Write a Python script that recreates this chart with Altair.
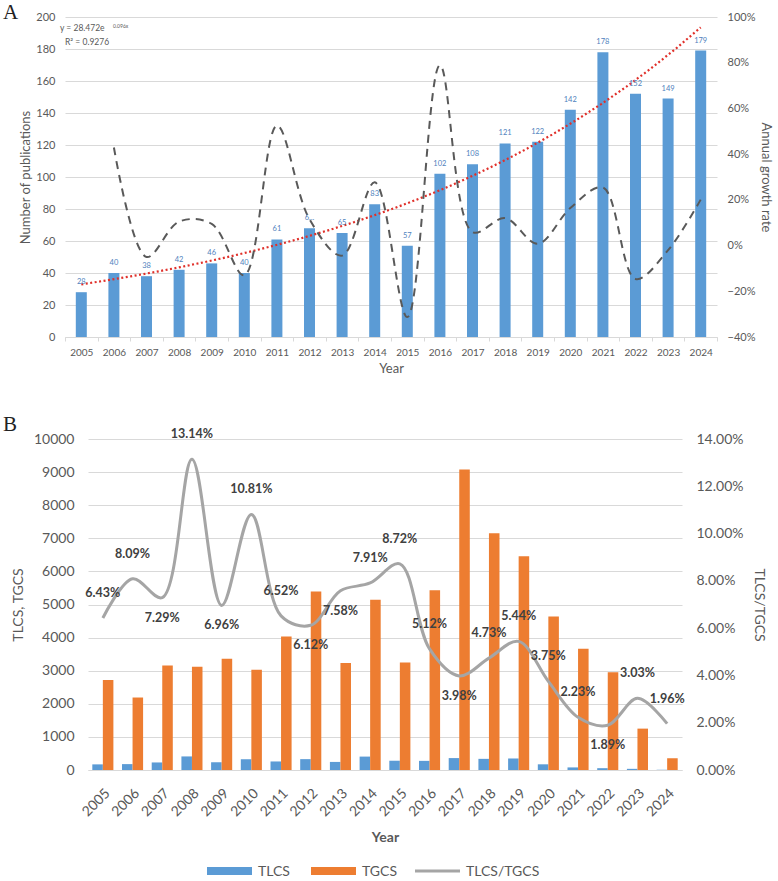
import altair as alt
import pandas as pd

# ---------------- Panel A data ----------------
years = ["2005", "2006", "2007", "2008", "2009", "2010", "2011", "2012", "2013", "2014",
         "2015", "2016", "2017", "2018", "2019", "2020", "2021", "2022", "2023", "2024"]
publications = [28, 40, 38, 42, 46, 40, 61, 68, 65, 83, 57, 102, 108, 121, 122, 142, 178, 152, 149, 179]
pub_labels = ["28", "40", "38", "42", "46", "40", "61", "6...", "65", "83",
              "57", "102", "108", "121", "122", "142", "178", "152", "149", "179"]
growth = [None, 0.429, -0.05, 0.105, 0.095, -0.13, 0.525, 0.115, -0.044, 0.277,
          -0.313, 0.789, 0.059, 0.12, 0.008, 0.164, 0.254, -0.146, -0.02, 0.201]

# ---------------- Panel B data ----------------
tlcs = [170, 178, 228, 410, 232, 325, 258, 328, 244, 405, 280, 276, 360, 337, 348, 172, 78, 55, 35, 7]
tgcs = [2720, 2190, 3160, 3120, 3360, 3030, 4030, 5390, 3230, 5140,
        3250, 5430, 9080, 7150, 6460, 4640, 3660, 2950, 1250, 355]
ratio = [0.0643, 0.0809, 0.0729, 0.1314, 0.0696, 0.1081, 0.0652, 0.0612, 0.0758, 0.0791,
         0.0872, 0.0512, 0.0398, 0.0473, 0.0544, 0.0375, 0.0223, 0.0189, 0.0303, 0.0196]
# which side of the curve each ratio label sits on, as in the reference
label_side = ["above", "above", "below", "above", "below", "above", "above", "below", "below", "above",
              "above", "above", "below", "above", "above", "above", "above", "below", "above", "above"]
legend_names = ["TLCS", "TGCS", "TLCS/TGCS"]
legend_colors = ["#5b9bd5", "#ed7d31", "#a5a5a5"]

FONT = "Lato"
SERIF = "Liberation Serif"
GRAY = "#595959"
GRID = "#d9d9d9"

# ======================= PANEL A =======================
df_a = pd.DataFrame({
    "Year": years,
    "idx": list(range(1, len(years) + 1)),
    "publications": publications,
    "label": pub_labels,
    "growth": growth,
})

xs_a = alt.Scale(type="band", domain=years, paddingInner=0, paddingOuter=0)
ys_a = alt.Scale(domain=[0, 200], nice=False)
yg_a = alt.Scale(domain=[-0.4, 1.0], nice=False, zero=False)

bars_a = alt.Chart(df_a).mark_bar(size=11, color="#5b9bd5").encode(
    x=alt.X("Year:O", scale=xs_a, axis=alt.Axis(
        title="Year", labelAngle=0, tickBand="extent", ticks=True, tickSize=4,
        tickColor=GRID, domainColor=GRID, labelColor=GRAY, labelFontSize=10,
        labelPadding=6, titleFontSize=13, titleColor=GRAY, titleFontWeight="normal",
        titlePadding=5, grid=False)),
    y=alt.Y("publications:Q", scale=ys_a, axis=alt.Axis(
        values=list(range(0, 201, 20)), title="Number of publications", grid=True,
        gridColor=GRID, domain=False, ticks=False, labelColor=GRAY, labelFontSize=11,
        labelPadding=10, titleFontSize=13, titleColor=GRAY, titleFontWeight="normal",
        titlePadding=3)),
)

labels_a = alt.Chart(df_a).mark_text(dy=-10, fontSize=7.5, color="#4f81bd", font=FONT).encode(
    x=alt.X("Year:O", scale=xs_a, axis=None, bandPosition=0.5),
    y=alt.Y("publications:Q", scale=ys_a, axis=None),
    text="label:N",
)

trend_a = alt.Chart(df_a).transform_regression(
    "idx", "publications", method="exp"
).mark_line(color="#e0302a", strokeWidth=2.2, strokeDash=[2, 2.5]).encode(
    x=alt.X("idx:Q", scale=alt.Scale(domain=[0.5, 20.5], nice=False, zero=False), axis=None),
    y=alt.Y("publications:Q", scale=ys_a, axis=None),
)

growth_a = alt.Chart(df_a).mark_line(
    color="#595959", strokeWidth=2, strokeDash=[8, 6], interpolate="catmull-rom"
).encode(
    x=alt.X("Year:O", scale=xs_a, axis=None, bandPosition=0.5),
    y=alt.Y("growth:Q", scale=yg_a, axis=alt.Axis(
        orient="right", format=".0%", values=[-0.4, -0.2, 0, 0.2, 0.4, 0.6, 0.8, 1.0],
        title="Annual growth rate", grid=False, domain=False, ticks=False,
        labelColor=GRAY, labelFontSize=11, labelPadding=10, titleFontSize=13,
        titleColor=GRAY, titleFontWeight="normal", titlePadding=4)),
)


def note(txt, x, y, size, color=GRAY, font=FONT, weight="normal", align="left", baseline="middle"):
    return alt.Chart(pd.DataFrame({"t": [txt]})).mark_text(
        align=align, baseline=baseline, fontSize=size, color=color, font=font, fontWeight=weight
    ).encode(text="t:N", x=alt.value(x), y=alt.value(y))


eq1 = note("y = 28.472e", -5, 11, 8.5)
eq2 = note("0.096x", 48, 8.5, 5)
eq3 = note("R² = 0.9276", 0, 24.5, 8.5)
letter_a = note("A", -62, -15, 21, color="#222222", font=SERIF, baseline="top")

panel_a = alt.layer(
    bars_a, trend_a, growth_a, labels_a, eq1, eq2, eq3, letter_a
).resolve_scale(x="independent", y="independent").properties(width=652, height=320)

# ======================= PANEL B =======================
df_b = pd.DataFrame({
    "Year": years,
    "TLCS": tlcs,
    "TGCS": tgcs,
    "ratio": ratio,
    "label": [f"{r * 100:.2f}%" for r in ratio],
    "side": label_side,
})

xs_b = alt.Scale(type="band", domain=years, paddingInner=0.29, paddingOuter=0.145)
yc_b = alt.Scale(domain=[0, 10000], nice=False)
yr_b = alt.Scale(domain=[0, 0.14], nice=False)

bars_b = alt.Chart(df_b).transform_fold(
    ["TLCS", "TGCS"], as_=["series", "value"]
).mark_bar().encode(
    x=alt.X("Year:O", scale=xs_b, axis=alt.Axis(
        title="Year", labelAngle=-45, ticks=False, domainColor=GRID, labelColor=GRAY,
        labelFontSize=14, labelPadding=16, titleFontSize=14, titleColor=GRAY,
        titleFontWeight="bold", titlePadding=12, grid=False)),
    xOffset=alt.XOffset("series:N", scale=alt.Scale(domain=["TLCS", "TGCS"], paddingInner=0, paddingOuter=0)),
    y=alt.Y("value:Q", scale=yc_b, axis=alt.Axis(
        values=list(range(0, 10001, 1000)), format="d", title="TLCS, TGCS", grid=True,
        gridColor=GRID, domain=False, ticks=False, labelColor=GRAY, labelFontSize=14,
        labelPadding=14, titleFontSize=14, titleColor=GRAY, titleFontWeight="normal",
        titlePadding=8)),
    color=alt.Color("series:N", scale=alt.Scale(domain=legend_names, range=legend_colors), legend=None),
)

line_b = alt.Chart(df_b).mark_line(
    color="#a5a5a5", strokeWidth=3, interpolate="catmull-rom"
).encode(
    x=alt.X("Year:O", scale=xs_b, bandPosition=0.5),
    y=alt.Y("ratio:Q", scale=yr_b, axis=alt.Axis(
        orient="right", format=".2%", values=[0, 0.02, 0.04, 0.06, 0.08, 0.10, 0.12, 0.14],
        title="TLCS/TGCS", grid=False, domain=False, ticks=False, labelColor=GRAY,
        labelFontSize=14, labelPadding=14, titleFontSize=14, titleColor=GRAY,
        titleFontWeight="normal", titlePadding=8)),
)

lab_above = alt.Chart(df_b).transform_filter("datum.side == 'above'").mark_text(
    dy=-25, fontSize=12.5, fontWeight="bold", color="#404040", font=FONT
).encode(
    x=alt.X("Year:O", scale=xs_b, bandPosition=0.5),
    y=alt.Y("ratio:Q", scale=yr_b, axis=None),
    text="label:N",
)
lab_below = alt.Chart(df_b).transform_filter("datum.side == 'below'").mark_text(
    dy=20, fontSize=12.5, fontWeight="bold", color="#404040", font=FONT
).encode(
    x=alt.X("Year:O", scale=xs_b, bandPosition=0.5),
    y=alt.Y("ratio:Q", scale=yr_b, axis=None),
    text="label:N",
)

legend_layers = []
for i, (name, col) in enumerate(zip(legend_names, legend_colors)):
    x0 = 119 + i * 104
    half = 1.5 if i == 2 else 4
    legend_layers.append(
        alt.Chart(pd.DataFrame({"n": [name]})).mark_rect(color=col).encode(
            x=alt.value(x0), x2=alt.value(x0 + 45), y=alt.value(432 - half), y2=alt.value(432 + half))
    )
    legend_layers.append(note(name, x0 + 51, 433, 14))

letter_b = note("B", -85, -25, 21, color="#222222", font=SERIF, baseline="top")

panel_b = alt.layer(
    bars_b, line_b, lab_above, lab_below, letter_b, *legend_layers
).resolve_scale(y="independent").properties(width=594, height=331)

# invisible spacer that shifts panel B's plot area 23 px right of panel A's
spacer = alt.Chart(pd.DataFrame({"s": [0]})).mark_point(opacity=0).encode(
    x=alt.value(0), y=alt.value(0)
).properties(width=23, height=1)

row_b = alt.hconcat(spacer, panel_b, spacing=0, bounds="flush")

chart = alt.vconcat(panel_a, row_b, spacing=39).properties(
    padding={"left": 3, "top": 2, "right": 4, "bottom": 0}
).configure_view(stroke=None).configure_axis(labelFont=FONT, titleFont=FONT).configure_text(font=FONT)

chart.save("out.html", embed_options={"renderer": "svg", "actions": False})
